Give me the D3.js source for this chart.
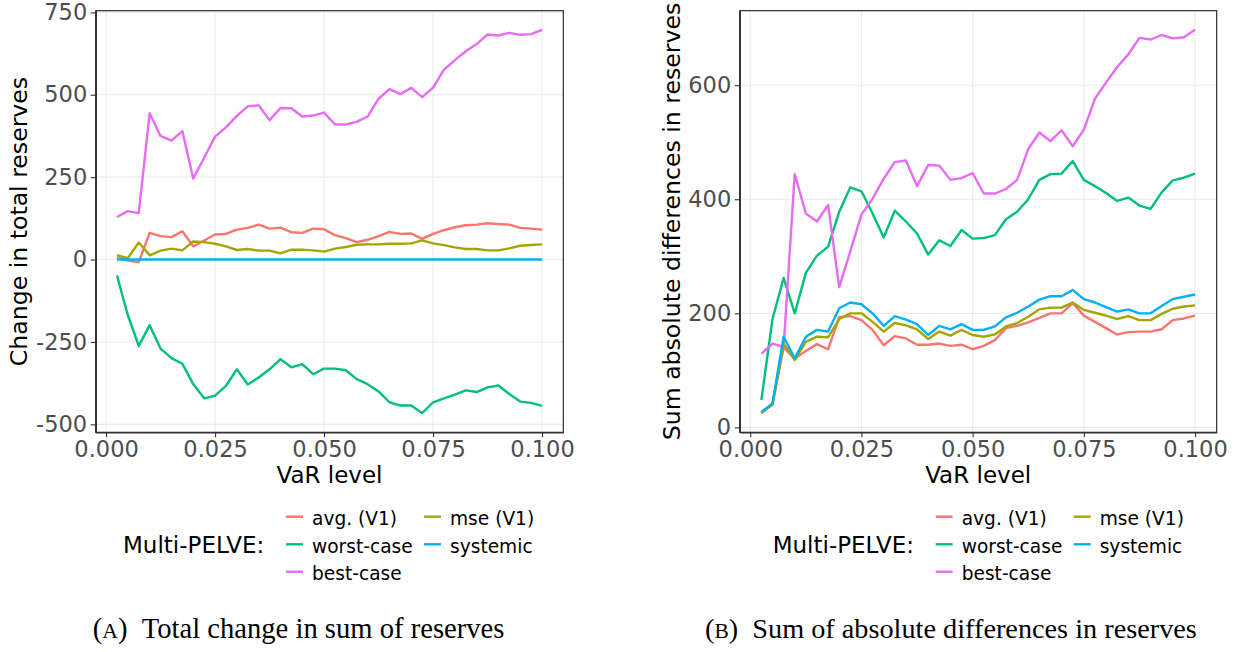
<!DOCTYPE html>
<html>
<head>
<meta charset="utf-8">
<script src="https://cdn.jsdelivr.net/npm/d3@7"></script>
<style>
  html, body { margin: 0; padding: 0; background: #ffffff; }
  svg { display: block; }
</style>
</head>
<body>
<svg id="fig" width="1242" height="652"></svg>
<script>
// VaR levels on the x axis
const varLevels = [0.0025, 0.005, 0.0075, 0.010, 0.0125, 0.015, 0.0175, 0.020, 0.0225, 0.025,
                   0.0275, 0.030, 0.0325, 0.035, 0.0375, 0.040, 0.0425, 0.045, 0.0475, 0.050,
                   0.0525, 0.055, 0.0575, 0.060, 0.0625, 0.065, 0.0675, 0.070, 0.0725, 0.075,
                   0.0775, 0.080, 0.0825, 0.085, 0.0875, 0.090, 0.0925, 0.095, 0.0975, 0.100];

// Series names and colours (legend order)
const seriesNames = ["avg. (V1)", "worst-case", "best-case", "mse (V1)", "systemic"];
const seriesColors = ["#F8766D", "#00BF7D", "#E76BF3", "#A3A500", "#00B0F6"];

// Panel A: total change in sum of reserves
const avgTotal = [5, -3, -8, 81, 71, 68, 86, 40, 58, 76, 78, 91, 96, 106, 94, 97, 83, 81, 94, 92,
                  74, 65, 53, 60, 71, 84, 78, 79, 63, 78, 89, 98, 104, 106, 110, 108, 106, 96, 94, 91];
const worstTotal = [-48, -169, -262, -199, -270, -299, -316, -378, -421, -413, -383, -333, -379, -358, -333, -302, -327, -317, -348, -331,
                    -331, -336, -363, -378, -400, -433, -443, -443, -466, -433, -421, -410, -397, -402, -388, -382, -408, -431, -435, -444];
const bestTotal = [129, 147, 141, 444, 375, 361, 390, 246, 309, 373, 401, 436, 465, 468, 423, 460, 459, 434, 437, 446,
                   410, 410, 418, 434, 488, 517, 502, 521, 493, 522, 576, 605, 632, 654, 683, 680, 688, 682, 684, 697];
const mseTotal = [13, 4, 52, 13, 27, 33, 28, 55, 53, 48, 40, 29, 32, 27, 27, 19, 30, 30, 28, 24,
                  33, 38, 45, 46, 46, 48, 48, 49, 58, 49, 44, 37, 32, 32, 28, 28, 34, 42, 44, 46];
const systemicTotal = [0, 0, 0, 0, 0, 0, 0, 0, 0, 0, 0, 0, 0, 0, 0, 0, 0, 0, 0, 0,
                       0, 0, 0, 0, 0, 0, 0, 0, 0, 0, 0, 0, 0, 0, 0, 0, 0, 0, 0, 0];

// Panel B: sum of absolute differences in reserves
const avgAbs = [26, 41, 140, 121, 134, 146, 137, 193, 195, 188, 171, 144, 160, 156, 145, 145, 147, 143, 145, 137,
                143, 153, 174, 178, 184, 192, 200, 200, 218, 196, 185, 174, 163, 167, 168, 168, 172, 188, 191, 196];
const worstAbs = [48, 190, 262, 200, 271, 301, 317, 378, 421, 414, 375, 333, 380, 361, 340, 303, 328, 318, 346, 331,
                  332, 337, 365, 378, 400, 434, 444, 445, 467, 434, 423, 411, 397, 403, 389, 383, 412, 433, 438, 445];
const bestAbs = [129, 147, 141, 444, 375, 361, 390, 246, 309, 373, 401, 436, 465, 468, 423, 460, 459, 434, 437, 446,
                 410, 410, 418, 434, 488, 517, 502, 521, 493, 522, 576, 605, 632, 654, 683, 680, 688, 682, 684, 697];
const mseAbs = [25, 40, 147, 118, 150, 159, 158, 190, 200, 200, 185, 168, 183, 179, 172, 155, 168, 161, 171, 162,
                159, 163, 177, 183, 194, 207, 210, 210, 219, 206, 201, 196, 190, 195, 188, 188, 199, 208, 212, 214];
const systemicAbs = [27, 42, 159, 121, 159, 171, 168, 209, 219, 216, 200, 178, 195, 189, 181, 162, 178, 172, 181, 171,
                     171, 177, 193, 201, 212, 224, 230, 230, 241, 225, 219, 211, 203, 207, 200, 200, 213, 225, 229, 233];

// Tick values and labels
const xTicks = [0, 0.025, 0.05, 0.075, 0.1];
const xTickLabels = ["0.000", "0.025", "0.050", "0.075", "0.100"];
const yTicksA = [-500, -250, 0, 250, 500, 750];
const yTicksB = [0, 200, 400, 600];

const SANS = "DejaVu Sans, Verdana, sans-serif";
const SERIF = "Liberation Serif, Times New Roman, serif";

const svg = d3.select("#fig");

function expandDomain(values) {
  const [lo, hi] = d3.extent(values);
  const pad = (hi - lo) * 0.05;
  return [lo - pad, hi + pad];
}

function drawPanel(cfg) {
  const { left, right, top, bottom, series, yTicks, yTitle, yTitleX, caption, captionLetter,
          captionX, captionWidth, legendX } = cfg;

  const x = d3.scaleLinear().domain(expandDomain(varLevels)).range([left, right]);
  const y = d3.scaleLinear().domain(expandDomain(series.flat())).range([bottom, top]);

  const g = svg.append("g");

  // major grid
  g.append("g").selectAll("line").data(xTicks).join("line")
    .attr("x1", d => x(d)).attr("x2", d => x(d))
    .attr("y1", top).attr("y2", bottom)
    .attr("stroke", "#EBEBEB").attr("stroke-width", 1.1);
  g.append("g").selectAll("line").data(yTicks).join("line")
    .attr("x1", left).attr("x2", right)
    .attr("y1", d => y(d)).attr("y2", d => y(d))
    .attr("stroke", "#EBEBEB").attr("stroke-width", 1.1);

  // series lines
  const line = d3.line().x((d, i) => x(varLevels[i])).y(d => y(d));
  g.append("g").selectAll("path").data(series).join("path")
    .attr("d", d => line(d))
    .attr("fill", "none")
    .attr("stroke", (d, i) => seriesColors[i])
    .attr("stroke-width", 2.4)
    .attr("stroke-linejoin", "round")
    .attr("stroke-linecap", "butt");

  // panel border
  g.append("rect")
    .attr("x", left).attr("y", top)
    .attr("width", right - left).attr("height", bottom - top)
    .attr("fill", "none").attr("stroke", "#1a1a1a").attr("stroke-width", 1.1);

  // axes
  const xAxis = d3.axisBottom(x).tickValues(xTicks)
    .tickFormat((d, i) => xTickLabels[i]).tickSize(5).tickSizeOuter(0).tickPadding(4);
  const gx = g.append("g").attr("transform", `translate(0,${bottom})`).call(xAxis);
  gx.select(".domain").attr("stroke", "#333333").attr("stroke-width", 1.6);
  gx.selectAll(".tick line").attr("stroke", "#333333").attr("stroke-width", 1.1);
  gx.selectAll(".tick text").attr("fill", "#4D4D4D").attr("font-family", SANS).attr("font-size", 22.5);

  const yAxis = d3.axisLeft(y).tickValues(yTicks).tickFormat(d3.format("d"))
    .tickSize(5).tickSizeOuter(0).tickPadding(3.5);
  const gy = g.append("g").attr("transform", `translate(${left},0)`).call(yAxis);
  gy.select(".domain").attr("stroke", "#333333").attr("stroke-width", 1.6);
  gy.selectAll(".tick line").attr("stroke", "#333333").attr("stroke-width", 1.1);
  gy.selectAll(".tick text").attr("fill", "#4D4D4D").attr("font-family", SANS).attr("font-size", 22.5)
    .text(d => String(d).replace("\u2212", "-"));

  // axis titles
  g.append("text")
    .attr("x", (left + right) / 2).attr("y", 482.5)
    .attr("text-anchor", "middle")
    .attr("font-family", SANS).attr("font-size", 23).attr("fill", "#000")
    .text("VaR level");
  g.append("text")
    .attr("transform", `translate(${yTitleX},${(top + bottom) / 2}) rotate(-90)`)
    .attr("text-anchor", "middle")
    .attr("font-family", SANS).attr("font-size", 23.6).attr("fill", "#000")
    .text(yTitle);

  // legend
  const lg = g.append("g");
  lg.append("text")
    .attr("x", legendX).attr("y", 553)
    .attr("font-family", SANS).attr("font-size", 23).attr("fill", "#000")
    .text("Multi-PELVE:");
  const keyX0 = legendX + 163;
  const colOffset = 138;
  const rowY = [516.7, 544.3, 571.7];
  seriesNames.forEach((name, i) => {
    const col = Math.floor(i / 3), row = i % 3;
    const kx = keyX0 + col * colOffset;
    lg.append("line")
      .attr("x1", kx).attr("x2", kx + 17)
      .attr("y1", rowY[row]).attr("y2", rowY[row])
      .attr("stroke", seriesColors[i]).attr("stroke-width", 2.4);
    lg.append("text")
      .attr("x", kx + 26).attr("y", rowY[row] + 8.3)
      .attr("font-family", SANS).attr("font-size", 18.6).attr("fill", "#000")
      .text(name);
  });

  // caption
  const cap = svg.append("text")
    .attr("x", captionX).attr("y", 638)
    .attr("font-family", SERIF).attr("font-size", 25).attr("fill", "#000");
  cap.append("tspan").text("(");
  cap.append("tspan").attr("font-size", 19).text(captionLetter);
  cap.append("tspan").text(")\u2002" + caption);
  const w = cap.node().getComputedTextLength();
  const s = captionWidth / w;
  cap.attr("font-size", 25 * s);
  cap.select("tspan:nth-child(2)").attr("font-size", 19 * s);
}

drawPanel({
  left: 95.7, right: 563.3, top: 10.7, bottom: 432.3,
  series: [avgTotal, worstTotal, bestTotal, mseTotal, systemicTotal],
  yTicks: yTicksA, yTitle: "Change in total reserves", yTitleX: 27,
  caption: "Total change in sum of reserves", captionLetter: "A",
  captionX: 92.7, captionWidth: 412, legendX: 123
});

drawPanel({
  left: 739.7, right: 1216.7, top: 10.7, bottom: 432.3,
  series: [avgAbs, worstAbs, bestAbs, mseAbs, systemicAbs],
  yTicks: yTicksB, yTitle: "Sum absolute differences in reserves", yTitleX: 680,
  caption: "Sum of absolute differences in reserves", captionLetter: "B",
  captionX: 705, captionWidth: 492, legendX: 772.7
});
</script>
</body>
</html>
